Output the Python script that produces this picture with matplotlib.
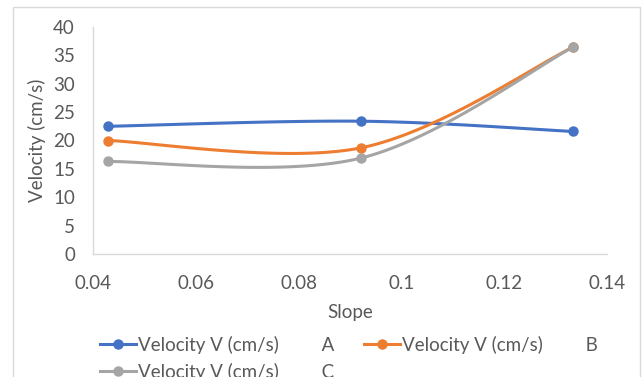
import numpy as np
import matplotlib.pyplot as plt
from matplotlib.lines import Line2D
from matplotlib.patches import Rectangle

plt.rcParams['font.family'] = ['Lato', 'DejaVu Sans']

slope = [0.0429, 0.0921, 0.1333]
vel_a = [22.5, 23.4, 21.6]
vel_b = [20.0, 18.7, 36.4]
vel_c = [16.3, 16.9, 36.4]

names = ['Velocity V (cm/s)         A', 'Velocity V (cm/s)         B',
         'Velocity V (cm/s)         C']
colors = ['#4472C4', '#ED7D31', '#A5A5A5']
TXT = '#595959'
AXC = '#D9D9D9'
FS = 13.5


def smooth(xs, ys, n=60):
    # Catmull-Rom style bezier through the points, like a spreadsheet "smoothed line"
    p = np.column_stack([xs, ys]).astype(float)
    out = []
    for i in range(len(p) - 1):
        p0 = p[i - 1] if i > 0 else p[i]
        p1, p2 = p[i], p[i + 1]
        p3 = p[i + 2] if i + 2 < len(p) else p[i + 1]
        c1 = p1 + (p2 - p0) / 6
        c2 = p2 - (p3 - p1) / 6
        t = np.linspace(0, 1, n)[:, None]
        seg = ((1 - t) ** 3 * p1 + 3 * (1 - t) ** 2 * t * c1
               + 3 * (1 - t) * t ** 2 * c2 + t ** 3 * p2)
        out.append(seg if i == 0 else seg[1:])
    out = np.vstack(out)
    return out[:, 0], out[:, 1]


fig = plt.figure(figsize=(6.42, 3.77), dpi=100)
fig.patches.append(Rectangle((13 / 642, -0.1), 627 / 642, 1.1 - 7 / 377,
                             transform=fig.transFigure, fill=False,
                             edgecolor=AXC, lw=1))
ax = fig.add_axes([93 / 642, 1 - 254 / 377, 514 / 642, 227 / 377])

handles = []
for ys, c in zip([vel_a, vel_b, vel_c], colors):
    sx, sy = smooth(slope, ys)
    ax.plot(sx, sy, color=c, lw=2.2, solid_capstyle='round', zorder=2)
    ax.plot(slope, ys, 'o', color=c, ms=6.5, zorder=3)
    handles.append(Line2D([], [], color=c, lw=2.2, marker='o', ms=6.5))

ax.set_xlim(0.04, 0.14)
ax.set_ylim(0, 40)
ax.set_xticks([0.04, 0.06, 0.08, 0.1, 0.12, 0.14])
ax.set_xticklabels(['0.04', '0.06', '0.08', '0.1', '0.12', '0.14'])
ax.set_yticks(range(0, 41, 5))
for s in ['top', 'right']:
    ax.spines[s].set_visible(False)
for s in ['left', 'bottom']:
    ax.spines[s].set_color(AXC)
    ax.spines[s].set_linewidth(1)
ax.tick_params(length=0, labelsize=FS, colors=TXT, pad=13)
ax.tick_params(axis='x', pad=15)
ax.set_xlabel('Slope', fontsize=FS, color=TXT, labelpad=9)
ax.set_ylabel('Velocity (cm/s)', fontsize=FS, color=TXT, labelpad=5)

# legend fills column-first, so order the entries to read A, B / C by rows
order = [0, 2, 1]
fig.legend([handles[i] for i in order], [names[i] for i in order], ncol=2,
           loc='upper left', bbox_to_anchor=(93 / 642, 1 - 328 / 377),
           frameon=False, fontsize=FS, labelcolor=TXT, handlelength=1.9,
           handletextpad=0.1, columnspacing=1.6, labelspacing=0.5,
           borderaxespad=0)

fig.savefig('out.png', dpi=100)
